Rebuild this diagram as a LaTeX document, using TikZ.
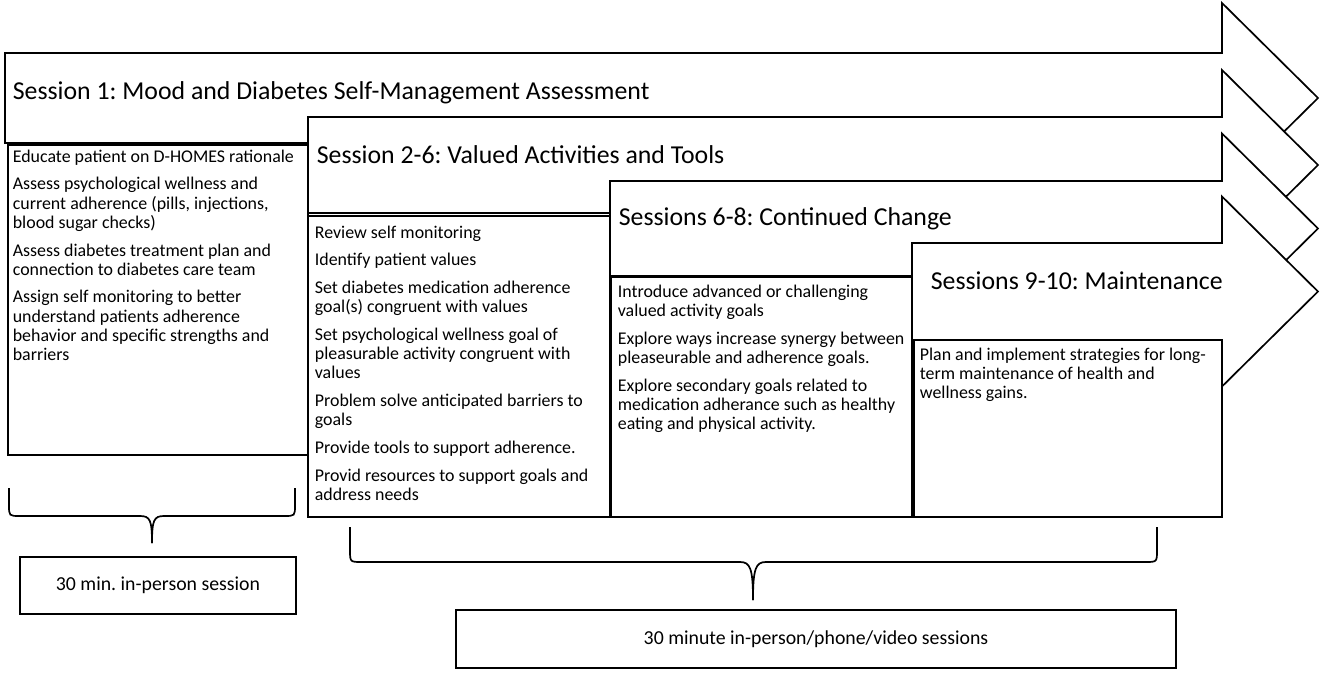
\documentclass[tikz,border=0pt]{standalone}
\usepackage{fontspec}
\setmainfont{Carlito}
\usetikzlibrary{calc}
\begin{document}
\frenchspacing
\begin{tikzpicture}[x=1pt,y=-1pt,line width=1.7pt,line join=miter,
  arrowshape/.style={draw=black,fill=white},
  boxshape/.style={draw=black,fill=white,line width=1.9pt},
  head/.style={anchor=base west,inner sep=0pt,font=\fontsize{25.8}{30}\selectfont},
  body/.style={anchor=north west,inner sep=0pt,align=left,font=\fontsize{17.9}{19.2}\selectfont},
  brace/.style={draw=black,line width=1.7pt},
  note/.style={draw=black,line width=1.7pt,inner sep=0pt,font=\fontsize{19.8}{23}\selectfont}]
\useasboundingbox (0,0) rectangle (1325,675);
% ---- Session 1 ----
\draw[arrowshape] (5,53) -- (1222,53) -- (1222,3) -- (1318,98) -- (1222,193) -- (1222,143) -- (5,143) -- cycle;
\node[head] (h1) at (12,99) {Session 1: Mood and Diabetes Self-Management Assessment};
\draw[boxshape] (8,145) rectangle (308,455);
\node[body] (t1) at (12,149) {Educate patient on D-HOMES rationale\\[8.5pt]
Assess psychological wellness and\\current adherence (pills, injections,\\blood sugar checks)\\[8.5pt]
Assess diabetes treatment plan and\\connection to diabetes care team\\[8.5pt]
Assign self monitoring to better\\understand patients adherence\\behavior and specific strengths and\\barriers};
% ---- Session 2-6 ----
\draw[arrowshape] (308,117) -- (1222,117) -- (1222,70) -- (1318,165) -- (1222,260) -- (1222,213) -- (308,213) -- cycle;
\node[head] (h2) at (316,163) {Session 2-6: Valued Activities and Tools};
\draw[boxshape] (308,216) rectangle (610,517);
\node[body] (t2) at (314,225) {Review self monitoring\\[8.5pt]
Identify patient values\\[8.5pt]
Set diabetes medication adherence\\goal(s) congruent with values\\[8.5pt]
Set psychological wellness goal of\\pleasurable activity congruent with\\values\\[8.5pt]
Problem solve anticipated barriers to\\goals\\[8.5pt]
Provide tools to support adherence.\\[8.5pt]
Provid resources to support goals and\\address needs};
% ---- Sessions 6-8 ----
\draw[arrowshape] (610,181) -- (1222,181) -- (1222,133.5) -- (1318,228.5) -- (1222,323.5) -- (1222,276) -- (610,276) -- cycle;
\node[head] (h3) at (618,225) {Sessions 6-8: Continued Change};
\draw[boxshape] (611,277) rectangle (912,517);
\node[body] (t3) at (617,284) {Introduce advanced or challenging\\valued activity goals\\[8.5pt]
Explore ways increase synergy between\\pleaseurable and adherence goals.\\[8.5pt]
Explore secondary goals related to\\medication adherance such as healthy\\eating and physical activity.};
% ---- Sessions 9-10 ----
\draw[arrowshape] (912,243) -- (1222,243) -- (1222,196.5) -- (1318,291.5) -- (1222,386.5) -- (1222,340) -- (912,340) -- cycle;
\node[head] (h4) at (930,289) {Sessions 9-10: Maintenance};
\draw[boxshape] (914,340) rectangle (1222,517);
\node[body] (t4) at (919,347) {Plan and implement strategies for long-\\term maintenance of health and\\wellness gains.};
% ---- braces ----
\coordinate (b1l) at (9,488);
\coordinate (b1r) at (295,488);
\coordinate (b1s) at (152,543);
\draw[brace] (b1l) -- (9,505) .. controls (9,516) .. (20,516) -- (140,516) .. controls (150,516) and (152,520) .. (b1s);
\draw[brace] (b1r) -- (295,505) .. controls (295,516) .. (284,516) -- (164,516) .. controls (154,516) and (152,520) .. (b1s);
\coordinate (b2l) at (350,527);
\coordinate (b2r) at (1157,527);
\coordinate (b2s) at (753,600);
\draw[brace] (b2l) -- (350,550) .. controls (350,562) .. (362,562) -- (740,562) .. controls (750,562) and (753,568) .. (b2s);
\draw[brace] (b2r) -- (1157,550) .. controls (1157,562) .. (1145,562) -- (766,562) .. controls (756,562) and (753,568) .. (b2s);
% ---- duration boxes ----
\node[note,minimum width=276pt,minimum height=57pt] (d1) at (158,585.5) {30 min. in-person session};
\node[note,minimum width=720pt,minimum height=58pt] (d2) at (816,639) {30 minute in-person/phone/video sessions};
\end{tikzpicture}
\end{document}
